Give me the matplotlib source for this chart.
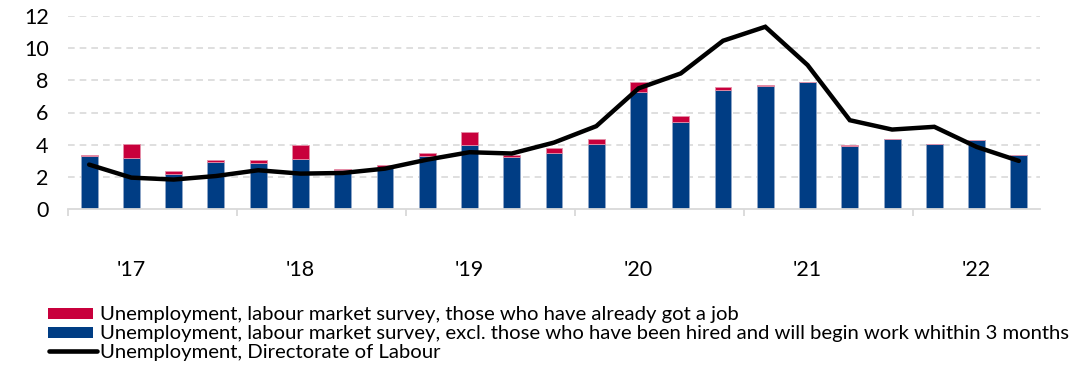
import matplotlib
matplotlib.use('Agg')
import matplotlib.pyplot as plt
from matplotlib.patches import Rectangle
from matplotlib.lines import Line2D
import numpy as np

plt.rcParams['font.family'] = ['Lato', 'DejaVu Sans']

# quarterly data, 2017Q1 - 2022Q3
quarters = ['17Q1', '17Q2', '17Q3', '17Q4', '18Q1', '18Q2', '18Q3', '18Q4',
            '19Q1', '19Q2', '19Q3', '19Q4', '20Q1', '20Q2', '20Q3', '20Q4',
            '21Q1', '21Q2', '21Q3', '21Q4', '22Q1', '22Q2', '22Q3']
lfs_excl = [3.30, 3.16, 2.20, 2.95, 2.87, 3.11, 2.41, 2.62,
            3.32, 3.99, 3.26, 3.51, 4.07, 7.25, 5.38, 7.43,
            7.66, 7.87, 3.90, 4.36, 4.05, 4.26, 3.34]
lfs_got_job = [0.08, 0.89, 0.17, 0.10, 0.20, 0.86, 0.06, 0.14,
               0.15, 0.77, 0.10, 0.27, 0.29, 0.62, 0.39, 0.15,
               0.02, 0.03, 0.06, 0.00, 0.00, 0.00, 0.00]
registered = [2.76, 1.95, 1.83, 2.05, 2.41, 2.20, 2.24, 2.51,
              3.07, 3.53, 3.45, 4.13, 5.15, 7.50, 8.43, 10.46,
              11.33, 8.95, 5.52, 4.94, 5.11, 3.86, 2.99]
year_labels = ["'17", "'18", "'19", "'20", "'21", "'22"]
legend_labels = ['Unemployment, labour market survey, those who have already got a job',
                 'Unemployment, labour market survey, excl. those who have been hired and will begin work whithin 3 months',
                 'Unemployment, Directorate of Labour']

red = '#C8003C'
blue = '#003D84'
x = np.arange(len(quarters))

W, H = 1091, 369
fig = plt.figure(figsize=(W / 100, H / 100), dpi=100)
ax = fig.add_axes([68 / W, 1 - 209 / H, (1040 - 68) / W, (209 - 16) / H])

ax.bar(x, lfs_excl, width=0.4, color=blue, edgecolor='#8FA6C8', linewidth=0.6, zorder=2)
ax.bar(x, lfs_got_job, width=0.4, bottom=lfs_excl, color=red, edgecolor='#E58FA8',
       linewidth=0.6, zorder=2)
ax.plot(x, registered, color='black', lw=3.2, solid_capstyle='round',
        solid_joinstyle='miter', zorder=3)

ax.set_xlim(-0.5, len(quarters) - 0.5)
ax.set_ylim(0, 12)
ax.set_yticks(range(0, 13, 2))
for yv in range(2, 13, 2):
    ax.axhline(yv, color='#D9D9D9', lw=1.2, ls=(0, (4, 3)), zorder=1)

for s in ['top', 'right', 'left']:
    ax.spines[s].set_visible(False)
ax.spines['bottom'].set_color('#D9D9D9')
ax.spines['bottom'].set_linewidth(1.3)

ax.set_xticks(np.arange(1, len(quarters), 4))
ax.set_xticklabels(year_labels)
ax.set_xticks(np.arange(-0.5, len(quarters) - 1, 4), minor=True)
ax.tick_params(axis='x', which='major', length=0, pad=37, labelsize=15.5)
ax.tick_params(axis='x', which='minor', length=5, width=1.3, color='#D9D9D9')
ax.tick_params(axis='y', length=0, pad=14, labelsize=15.5)

# legend drawn by hand below the plot, in pixel positions
def fx(px):
    return px / W

def fy(py):
    return 1 - py / H

for i, (lab, kind) in enumerate(zip(legend_labels, [red, blue, 'line'])):
    yc = 313 + 19 * i
    if kind == 'line':
        fig.add_artist(Line2D([fx(49), fx(97)], [fy(yc), fy(yc)], color='black',
                              lw=3.3, solid_capstyle='round', transform=fig.transFigure))
    else:
        fig.add_artist(Rectangle((fx(48), fy(yc + 5.5)), fx(45), 11 / H,
                                 facecolor=kind, edgecolor='none',
                                 transform=fig.transFigure))
    fig.text(fx(100), fy(yc), lab, fontsize=14.6, va='center_baseline', ha='left')

fig.savefig('out.png', dpi=100)
